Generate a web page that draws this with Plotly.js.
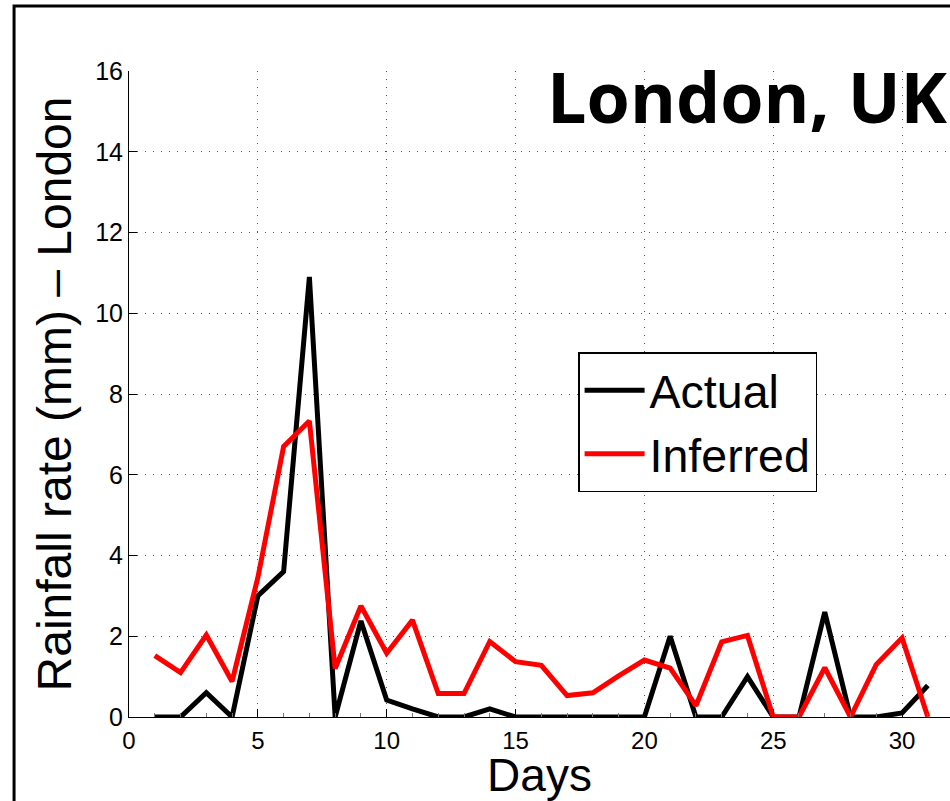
<!DOCTYPE html>
<html>
<head>
<meta charset="utf-8">
<script src="https://cdn.plot.ly/plotly-3.0.1.min.js"></script>
<style>
  html, body { margin: 0; padding: 0; background: #fff; overflow: hidden; }
  #chart { width: 950px; height: 801px; }
</style>
</head>
<body>
<div id="chart"></div>
<script>
// Days of the month
const days = [1,2,3,4,5,6,7,8,9,10,11,12,13,14,15,16,17,18,19,20,21,22,23,24,25,26,27,28,29,30,31];
// Actual rainfall (mm)
const actual = [0,0,0.6,0,3.0,3.6,10.9,0,2.38,0.42,0.2,0,0,0.2,0,0,0,0,0,0,2.0,0,0,1.0,0,0,2.6,0,0,0.1,0.78];
// Inferred rainfall (mm)
const inferred = [1.52,1.1,2.03,0.88,3.45,6.7,7.33,1.2,2.75,1.58,2.4,0.58,0.58,1.87,1.37,1.28,0.53,0.6,1.02,1.41,1.21,0.28,1.86,2.02,0,0,1.22,0,1.3,1.96,0];
const seriesNames = ['Actual', 'Inferred'];
const xTicks = [0,5,10,15,20,25,30];
const yTicks = [0,2,4,6,8,10,12,14,16];

const FONT = 'Liberation Sans, Arial, Helvetica, sans-serif';

const traces = [
  { x: days, y: actual, type: 'scatter', mode: 'lines', name: seriesNames[0],
    line: { color: '#000000', width: 5 } },
  { x: days, y: inferred, type: 'scatter', mode: 'lines', name: seriesNames[1],
    line: { color: '#ff0000', width: 5 } }
];

const layout = {
  width: 950, height: 801,
  margin: { l: 129, r: 0, t: 71, b: 84, pad: 0 },
  paper_bgcolor: '#ffffff', plot_bgcolor: '#ffffff',
  font: { family: FONT, color: '#000' },
  showlegend: true,
  legend: {
    x: 0.547, y: 0.565, xanchor: 'left', yanchor: 'top',
    bgcolor: '#ffffff', bordercolor: '#000000', borderwidth: 1.5,
    font: { family: FONT, size: 46.5, color: '#000' },
    itemwidth: 60, tracegroupgap: 0
  },
  xaxis: {
    range: [0, 31.86], tickvals: xTicks, ticktext: xTicks.map(String),
    ticks: 'inside', ticklen: 8, tickwidth: 1, tickcolor: '#000',
    minor: { dtick: 1, ticks: 'inside', ticklen: 4, tickcolor: '#777', showgrid: false },
    showline: true, linecolor: '#000', linewidth: 1, mirror: false,
    showgrid: true, gridcolor: '#555', gridwidth: 1, griddash: '1px,7px',
    zeroline: false,
    tickfont: { family: FONT, size: 24, color: '#000' },
    ticklabelstandoff: 2,
    title: { text: 'Days', font: { family: FONT, size: 46, color: '#000' }, standoff: 9 }
  },
  yaxis: {
    range: [0, 16], tickvals: yTicks, ticktext: yTicks.map(String),
    ticks: 'inside', ticklen: 8, tickwidth: 1, tickcolor: '#000',
    showline: true, linecolor: '#000', linewidth: 1, mirror: false,
    showgrid: true, gridcolor: '#555', gridwidth: 1, griddash: '1px,7px',
    zeroline: false,
    tickfont: { family: FONT, size: 25, color: '#000' },
    title: { text: 'Rainfall rate (mm) – London', font: { family: FONT, size: 48, color: '#000' }, standoff: 8 }
  },
  annotations: [
    { text: '<b>London, UK</b>', xref: 'paper', yref: 'paper',
      x: 0.9995, y: 0.961, xanchor: 'right', yanchor: 'middle', showarrow: false,
      font: { family: 'Open Sans, Noto Sans, sans-serif', size: 70, color: '#000' } }
  ],
  shapes: [
    { type: 'rect', xref: 'paper', yref: 'paper',
      x0: -0.140, x1: 1.2, y0: -0.3, y1: 1.1006,
      line: { color: '#000', width: 3 }, fillcolor: 'rgba(0,0,0,0)', layer: 'above' }
  ]
};

Plotly.newPlot('chart', traces, layout, { displayModeBar: false, staticPlot: true });
</script>
</body>
</html>
